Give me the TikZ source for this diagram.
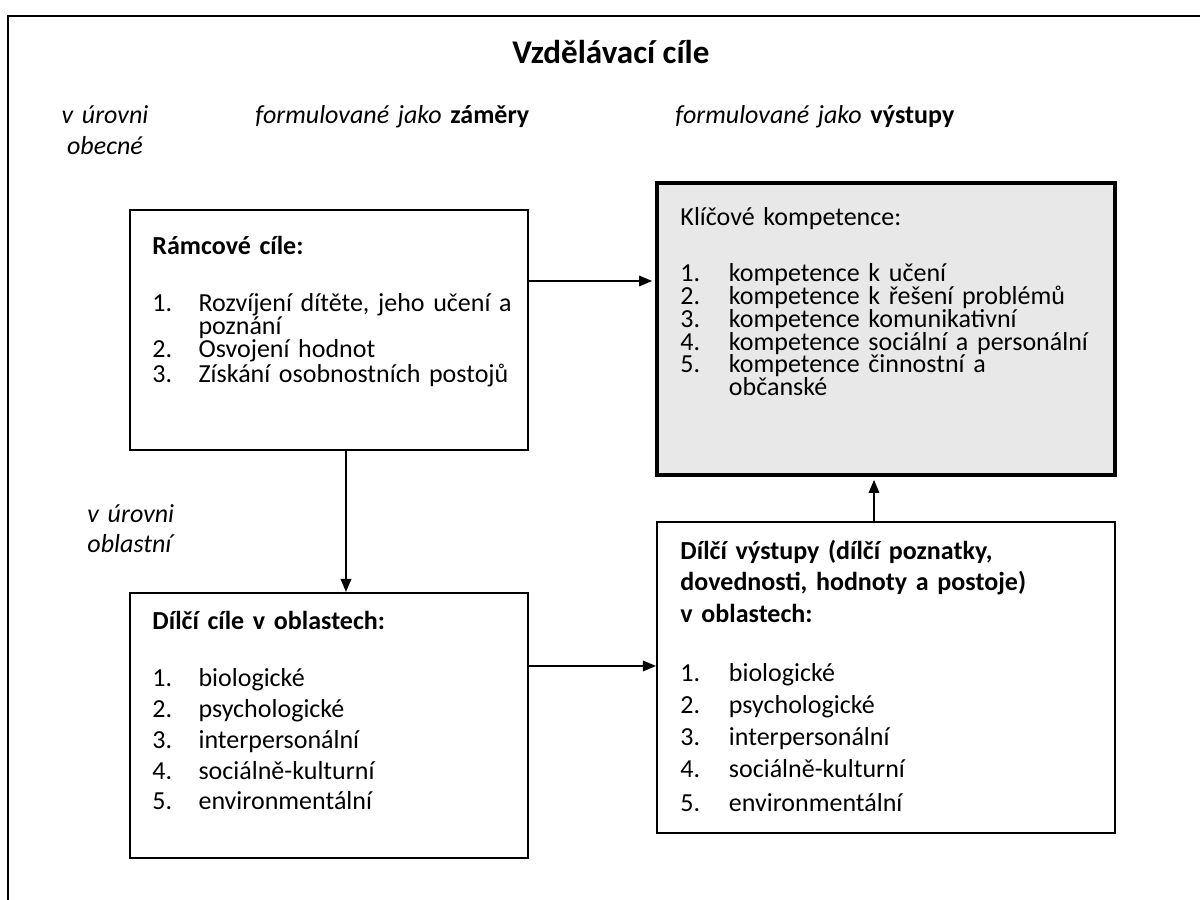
\documentclass[tikz,border=0pt]{standalone}
\usepackage{fontspec}
\setmainfont{Carlito}
\usetikzlibrary{arrows.meta,positioning,calc,fit}
\definecolor{keygray}{RGB}{232,232,232}
\newcommand{\li}[2]{\makebox[19.5pt][l]{#1}#2}
\newcommand{\ri}[2]{\makebox[20.5pt][l]{#1}#2}

\begin{document}
\begin{tikzpicture}[
  x=0.423pt, y=-0.423pt,
  font=\fontsize{11}{9.6}\selectfont,
  >={Triangle[length=5.5pt,width=4.4pt]},
  frame/.style={draw, line width=0.9pt},
  goal/.style={draw, line width=0.85pt, inner sep=0pt},
  keybox/.style={draw, line width=2.1pt, fill=keygray, inner sep=0pt},
  txt/.style={anchor=base west, inner sep=0pt, text width=200pt, align=left},
  wide/.style={font=\fontsize{11}{13}\selectfont},
  note/.style={inner sep=0pt, text width=60pt, font=\fontsize{11}{13.1}\selectfont\itshape},
  link/.style={->, line width=0.85pt},
]
\clip (0,0) rectangle (1200,900);
\draw[frame] (8,16) rectangle (1240,940);

% headings above the boxes
\node[font=\fontsize{14}{16}\selectfont\bfseries] (title) at (611,52) {Vzdělávací cíle};
\node[note, anchor=base, align=center] (obecne) at (105,124) {v úrovni\\obecné};
\node[note, anchor=base west, text width=150pt] (zamery) at (255,124) {formulované jako {\upshape\bfseries záměry}};
\node[note, anchor=base west, text width=150pt] (vystup) at (675,124) {formulované jako {\upshape\bfseries výstupy}};
\node[note, anchor=base west, align=left] (oblastni) at (87,522) {v úrovni\\oblastní};

% boxes
\node[goal, fit={(130,210) (528,450)}] (ramcove) {};
\node[keybox, fit={(657,183) (1115,475)}] (klicove) {};
\node[goal, fit={(130,593) (528,858)}] (dilci) {};
\node[goal, fit={(657,522) (1115,833)}] (vystupy) {};

\node[txt] (ramcove-t) at (152,255) {\textbf{Rámcové cíle:}\\[14.5pt]
  \li{1.}{Rozvíjení dítěte, jeho učení a}\\ \li{}{poznání}\\
  \li{2.}{Osvojení hodnot}\\ \li{3.}{Získání osobnostních postojů}};
\node[txt] (klicove-t) at (680,225) {Klíčové kompetence:\\[14.5pt]
  \ri{1.}{kompetence k učení}\\ \ri{2.}{kompetence k řešení problémů}\\
  \ri{3.}{kompetence komunikativní}\\ \ri{4.}{kompetence sociální a personální}\\
  \ri{5.}{kompetence činnostní a}\\ \ri{}{občanské}};
\node[txt, wide] (dilci-t) at (152,629) {\textbf{Dílčí cíle v oblastech:}\\[11.5pt]
  \li{1.}{biologické}\\ \li{2.}{psychologické}\\ \li{3.}{interpersonální}\\
  \li{4.}{sociálně-kulturní}\\ \li{5.}{environmentální}};
\node[txt, wide] (vystupy-t) at (680,559) {\textbf{Dílčí výstupy (dílčí poznatky,}\\[0.5pt]
  \textbf{dovednosti, hodnoty a postoje)}\\[0.5pt] \textbf{v oblastech:}\\[12pt]
  \ri{1.}{biologické}\\[0.5pt] \ri{2.}{psychologické}\\[0.5pt] \ri{3.}{interpersonální}\\[0.5pt]
  \ri{4.}{sociálně-kulturní}\\[1.5pt] \ri{5.}{environmentální}};

% arrows
\coordinate (r1) at ($(ramcove.north east)+(0,72)$);
\draw[link, shorten >=1pt] (r1) -- (r1 -| klicove.west);
\coordinate (r2) at ($(ramcove.south west)+(217,0)$);
\draw[link] (r2) -- (r2 |- dilci.north);
\coordinate (d1) at ($(dilci.north east)+(0,74)$);
\draw[link] (d1) -- (d1 -| vystupy.west);
\coordinate (v1) at ($(vystupy.north west)+(218,0)$);
\draw[link, shorten >=1pt] (v1) -- (v1 |- klicove.south);

\end{tikzpicture}
\end{document}
